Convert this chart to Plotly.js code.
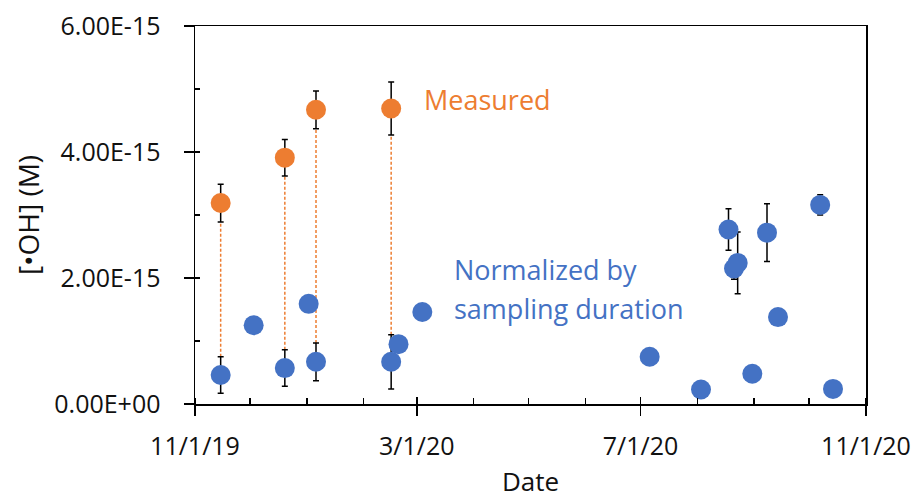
<!DOCTYPE html>
<html><head><meta charset="utf-8">
<script src="https://cdn.plot.ly/plotly-3.0.1.min.js"></script>
<style>html,body{margin:0;padding:0;background:#fff}#chart{width:920px;height:499px}</style>
</head><body><div id="chart"></div>
<script>
// ---- data ----
const measuredDates  = ['2019-11-15','2019-12-20','2020-01-06','2020-02-16'];
const measuredValues = [3.19e-15, 3.91e-15, 4.67e-15, 4.69e-15];
const measuredErrors = [0.30e-15, 0.29e-15, 0.30e-15, 0.42e-15];

const normalizedDates  = ['2019-11-15','2019-12-03','2019-12-20','2020-01-02','2020-01-06','2020-02-16','2020-02-20','2020-03-04',
                          '2020-07-06','2020-08-03','2020-08-18','2020-08-21','2020-08-23','2020-08-31','2020-09-08','2020-09-14','2020-10-07','2020-10-14'];
const normalizedValues = [0.46e-15, 1.25e-15, 0.57e-15, 1.59e-15, 0.67e-15, 0.67e-15, 0.95e-15, 1.46e-15,
                          0.75e-15, 0.23e-15, 2.77e-15, 2.15e-15, 2.24e-15, 0.48e-15, 2.72e-15, 1.38e-15, 3.16e-15, 0.24e-15];
const normalizedErrors = [0.29e-15, 0, 0.29e-15, 0, 0.30e-15, 0.43e-15, 0, 0,
                          0, 0, 0.33e-15, 0.17e-15, 0.49e-15, 0, 0.46e-15, 0, 0.16e-15, 0];

const xRange = ['2019-11-01','2020-11-01'];
const yRange = [0, 6e-15];
const yTickValues = [0, 2e-15, 4e-15, 6e-15];
const yTickLabels = ['0.00E+00','2.00E-15','4.00E-15','6.00E-15'];
const yMinorTickValues = [1e-15, 3e-15, 5e-15];

const ORANGE = '#ED7D31', BLUE = '#4472C4';
const FONT = 'Open Sans, Noto Sans, sans-serif';

// connectors: from top of normalized error bar to bottom of measured error bar
const connX = [], connY = [];
measuredDates.forEach((d, i) => {
  const j = normalizedDates.indexOf(d);
  connX.push(d, d, null);
  connY.push(normalizedValues[j] + normalizedErrors[j], measuredValues[i] - measuredErrors[i], null);
});

const errStyle = {type:'data', visible:true, color:'#000', thickness:1.5, width:3};

const traces = [
  {x: connX, y: connY, mode:'lines', line:{color:ORANGE, width:1.5, dash:'3px,2px'}, hoverinfo:'skip', showlegend:false},
  {x: normalizedDates, y: normalizedValues, mode:'markers', marker:{color:BLUE, size:20},
   error_y: Object.assign({array: normalizedErrors}, errStyle), showlegend:false},
  {x: measuredDates, y: measuredValues, mode:'markers', marker:{color:ORANGE, size:20},
   error_y: Object.assign({array: measuredErrors}, errStyle), showlegend:false},
  {x: xRange, y: [null, null], xaxis:'x2', yaxis:'y2', mode:'markers', marker:{opacity:0}, hoverinfo:'skip', showlegend:false}
];

const tickFont = {family: FONT, size: 25, color: '#111'};
const layout = {
  width: 920, height: 499,
  margin: {l:195, r:54, t:26, b:95},
  paper_bgcolor:'#fff', plot_bgcolor:'#fff',
  showlegend:false,
  xaxis: {
    type:'date', range: xRange, tickmode:'linear', tick0: xRange[0], dtick:'M4', tickformat:'%-m/%-d/%y',
    ticks:'outside', ticklen:10, tickwidth:1.5, tickcolor:'#000',
    minor:{dtick:'M1', tick0: xRange[0], ticks:'inside', ticklen:6, tickwidth:1.5, tickcolor:'#000', showgrid:false},
    showline:true, linecolor:'#000', linewidth:1.5, mirror:true, showgrid:false, zeroline:false,
    tickfont: tickFont, ticklabelstandoff: 9,
    title:{text:'Date', font:{family:FONT, size:26, color:'#111'}, standoff: 16}
  },
  yaxis: {
    range: yRange, tickmode:'array', tickvals: yTickValues, ticktext: yTickLabels,
    ticks:'outside', ticklen:10, tickwidth:1.5, tickcolor:'#000',
    minor:{tickmode:'array', tickvals: yMinorTickValues, ticks:'inside', ticklen:5, tickwidth:1.5, tickcolor:'#000', showgrid:false},
    showline:true, linecolor:'#000', linewidth:1.5, mirror:true, showgrid:false, zeroline:false,
    tickfont: tickFont, ticklabelstandoff: 18,
    title:{text:'[•OH] (M)', font:{family:FONT, size:28, color:'#111'}, standoff: 6}
  },
  xaxis2: {
    type:'date', range: xRange, overlaying:'x', anchor:'y2', tickmode:'linear', tick0: xRange[0], dtick:'M4',
    ticks:'inside', ticklen:7, tickwidth:1.5, tickcolor:'#000', showticklabels:false,
    showline:false, showgrid:false, zeroline:false
  },
  yaxis2: {
    range: yRange, overlaying:'y', anchor:'x2', side:'left', tickmode:'array', tickvals: yTickValues,
    ticks:'inside', ticklen:5, tickwidth:1.5, tickcolor:'#000', showticklabels:false,
    showline:false, showgrid:false, zeroline:false
  },
  annotations: [
    {xref:'paper', yref:'paper', x:0.339, y:0.806, xanchor:'left', yanchor:'middle', showarrow:false,
     text:'Measured', font:{family:FONT, size:27, color:ORANGE}},
    {xref:'paper', yref:'paper', x:0.383, y:0.356, xanchor:'left', yanchor:'middle', showarrow:false,
     text:'Normalized by', font:{family:FONT, size:27, color:BLUE}},
    {xref:'paper', yref:'paper', x:0.383, y:0.252, xanchor:'left', yanchor:'middle', showarrow:false,
     text:'sampling duration', font:{family:FONT, size:27, color:BLUE}}
  ]
};

Plotly.newPlot('chart', traces, layout, {staticPlot:true, displayModeBar:false});
</script>
</body></html>
